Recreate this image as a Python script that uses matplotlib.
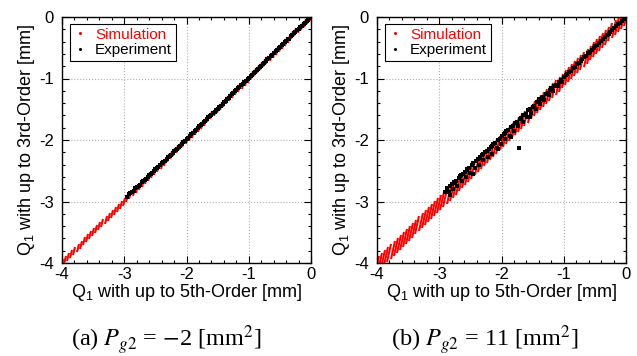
import matplotlib.pyplot as plt
from matplotlib.markers import MarkerStyle
from matplotlib.transforms import Affine2D
from matplotlib.lines import Line2D

plt.rcParams['font.family'] = ['Liberation Sans', 'DejaVu Sans']
plt.rcParams['axes.unicode_minus'] = False
plt.rcParams['mathtext.fontset'] = 'custom'
plt.rcParams['mathtext.rm'] = 'Liberation Sans'
plt.rcParams['mathtext.it'] = 'Liberation Sans:italic'

# simulation grid (x) and centre of each stripe (y)
sim_x = [-4.00, -3.95, -3.90, -3.85, -3.80, -3.75, -3.70, -3.65, -3.60, -3.55,
         -3.50, -3.45, -3.40, -3.35, -3.30, -3.25, -3.20, -3.15, -3.10, -3.05,
         -3.00, -2.95, -2.90, -2.85, -2.80, -2.75, -2.70, -2.65, -2.60, -2.55,
         -2.50, -2.45, -2.40, -2.35, -2.30, -2.25, -2.20, -2.15, -2.10, -2.05,
         -2.00, -1.95, -1.90, -1.85, -1.80, -1.75, -1.70, -1.65, -1.60, -1.55,
         -1.50, -1.45, -1.40, -1.35, -1.30, -1.25, -1.20, -1.15, -1.10, -1.05,
         -1.00, -0.95, -0.90, -0.85, -0.80, -0.75, -0.70, -0.65, -0.60, -0.55,
         -0.50, -0.45, -0.40, -0.35, -0.30, -0.25, -0.20, -0.15, -0.10, -0.05, 0.00]
sim_y_a = list(sim_x)
sim_y_b = [-4.04, -3.99, -3.94, -3.89, -3.84, -3.79, -3.74, -3.69, -3.64, -3.59,
           -3.54, -3.49, -3.44, -3.39, -3.34, -3.29, -3.24, -3.19, -3.14, -3.09,
           -3.04, -2.99, -2.94, -2.89, -2.84, -2.79, -2.74, -2.69, -2.64, -2.59,
           -2.53, -2.48, -2.43, -2.38, -2.33, -2.28, -2.23, -2.18, -2.13, -2.08,
           -2.02, -1.97, -1.92, -1.87, -1.82, -1.77, -1.72, -1.67, -1.62, -1.57,
           -1.52, -1.47, -1.42, -1.37, -1.32, -1.27, -1.22, -1.17, -1.12, -1.07,
           -1.01, -0.96, -0.91, -0.86, -0.81, -0.76, -0.71, -0.66, -0.61, -0.56,
           -0.51, -0.46, -0.41, -0.36, -0.31, -0.25, -0.20, -0.15, -0.10, -0.05, 0.00]

exp_x_a = [-2.95, -2.90, -2.85, -2.80, -2.75, -2.70, -2.65, -2.60, -2.55, -2.50,
           -2.45, -2.40, -2.35, -2.30, -2.25, -2.20, -2.15, -2.10, -2.05, -2.00,
           -1.95, -1.90, -1.85, -1.80, -1.75, -1.70, -1.65, -1.60, -1.55, -1.50,
           -1.45, -1.40, -1.35, -1.30, -1.25, -1.20, -1.15, -1.10, -1.05, -1.00,
           -0.95, -0.90, -0.85, -0.80, -0.75, -0.70, -0.65, -0.60, -0.55, -0.50,
           -0.45, -0.40, -0.35, -0.30, -0.25, -0.20, -0.15, -0.10, -0.05, 0.00,
           -2.92, -2.87, -2.82, -2.77, -2.72, -2.67, -2.62, -2.57, -2.52, -2.47,
           -2.42, -2.37, -2.32, -2.27, -2.22, -2.17, -2.12, -2.07, -2.02, -1.97,
           -1.92, -1.87, -1.82, -1.77, -1.72, -1.67, -1.62, -1.57, -1.52, -1.47,
           -1.42, -1.37, -1.32, -1.27, -1.22, -1.17, -1.12, -1.07, -1.02, -0.97,
           -0.92, -0.87, -0.82, -0.77, -0.72, -0.67, -0.62, -0.57, -0.52, -0.47,
           -0.42, -0.37, -0.32, -0.27, -0.22, -0.17, -0.12, -0.07, -0.03]
exp_y_a = [-2.92, -2.86, -2.83, -2.76, -2.73, -2.66, -2.63, -2.57, -2.53, -2.47,
           -2.44, -2.38, -2.34, -2.28, -2.24, -2.18, -2.14, -2.09, -2.04, -1.99,
           -1.93, -1.89, -1.84, -1.78, -1.74, -1.69, -1.63, -1.59, -1.54, -1.49,
           -1.44, -1.38, -1.34, -1.29, -1.24, -1.19, -1.14, -1.09, -1.04, -0.99,
           -0.94, -0.89, -0.84, -0.79, -0.74, -0.69, -0.64, -0.59, -0.54, -0.49,
           -0.44, -0.39, -0.35, -0.30, -0.25, -0.20, -0.15, -0.10, -0.05, 0.00,
           -2.87, -2.84, -2.78, -2.75, -2.69, -2.65, -2.60, -2.55, -2.50, -2.45,
           -2.41, -2.35, -2.31, -2.26, -2.21, -2.16, -2.11, -2.06, -2.01, -1.96,
           -1.91, -1.86, -1.81, -1.76, -1.71, -1.66, -1.61, -1.56, -1.51, -1.46,
           -1.41, -1.36, -1.31, -1.26, -1.21, -1.16, -1.11, -1.06, -1.01, -0.96,
           -0.91, -0.86, -0.81, -0.76, -0.71, -0.66, -0.61, -0.56, -0.51, -0.46,
           -0.41, -0.36, -0.31, -0.26, -0.21, -0.16, -0.11, -0.06, -0.02]

exp_x_b = [-2.90, -2.88, -2.85, -2.83, -2.80, -2.78, -2.76, -2.73, -2.71, -2.69,
           -2.66, -2.64, -2.62, -2.59, -2.57, -2.55, -2.52, -2.50, -2.48, -2.45,
           -2.43, -2.41, -2.38, -2.36, -2.34, -2.31, -2.29, -2.27, -2.24, -2.22,
           -2.20, -2.17, -2.15, -2.13, -2.10, -2.08, -2.06, -2.03, -2.01, -1.99,
           -1.96, -1.94, -1.92, -1.89, -1.87, -1.85, -1.82, -1.80, -1.78, -1.75,
           -1.73, -1.71, -1.68, -1.66, -1.64, -1.61, -1.59, -1.57, -1.54, -1.52,
           -1.50, -1.47, -1.45, -1.43, -1.40, -1.38, -1.36, -1.33, -1.31, -1.29,
           -1.26, -1.24, -1.22, -1.19, -1.17, -1.15, -1.12, -1.10, -1.08, -1.05,
           -1.03, -1.00, -0.97, -0.94, -0.91, -0.88, -0.85, -0.82, -0.79, -0.76,
           -0.73, -0.70, -0.67, -0.64, -0.61, -0.58, -0.55, -0.52, -0.49, -0.46,
           -0.43, -0.40, -0.37, -0.34, -0.31, -0.28, -0.25, -0.22, -0.19, -0.16,
           -0.13, -0.10, -0.07, -0.04,
           -1.85, -2.45, -2.83, -1.55, -2.05, -1.72, -2.30, -2.65, -1.95, -1.40,
           -2.75, -2.55, -2.35, -2.15, -1.90, -1.65, -1.35, -1.20, -0.95, -0.60]
exp_y_b = [-2.84, -2.78, -2.85, -2.75, -2.72, -2.80, -2.68, -2.66, -2.74, -2.61,
           -2.58, -2.66, -2.55, -2.52, -2.60, -2.47, -2.45, -2.53, -2.40, -2.38,
           -2.46, -2.34, -2.31, -2.40, -2.27, -2.25, -2.33, -2.20, -2.18, -2.27,
           -2.14, -2.12, -2.22, -2.07, -2.05, -2.13, -2.00, -1.98, -2.06, -1.93,
           -1.91, -1.98, -1.86, -1.84, -1.93, -1.79, -1.77, -1.86, -1.72, -1.70,
           -1.78, -1.66, -1.64, -1.70, -1.59, -1.57, -1.63, -1.52, -1.50, -1.56,
           -1.46, -1.44, -1.49, -1.39, -1.37, -1.42, -1.33, -1.30, -1.35, -1.26,
           -1.24, -1.27, -1.19, -1.17, -1.20, -1.12, -1.10, -1.13, -1.06, -1.03,
           -1.05, -0.98, -0.95, -0.93, -0.89, -0.87, -0.83, -0.81, -0.77, -0.75,
           -0.71, -0.69, -0.65, -0.63, -0.59, -0.57, -0.53, -0.51, -0.47, -0.45,
           -0.42, -0.39, -0.36, -0.33, -0.30, -0.27, -0.24, -0.21, -0.18, -0.15,
           -0.12, -0.09, -0.06, -0.03,
           -1.95, -2.55, -2.90, -1.62, -2.15, -2.13, -2.22, -2.57, -1.88, -1.34,
           -2.70, -2.49, -2.30, -2.09, -1.84, -1.60, -1.31, -1.16, -0.92, -0.58]

ticks = [-4, -3, -2, -1, 0]
tick_labels = ['-4', '-3', '-2', '-1', '0']
captions = [r'(a) $P_{g2}$ = $-$2 [mm$^2$]', r'(b) $P_{g2}$ = 11 [mm$^2$]']
caption_x = [166 / 637, 485 / 637]

fig = plt.figure(figsize=(6.37, 3.56), dpi=100)
ax_a = fig.add_axes([62 / 637, 1 - 263 / 356, 249 / 637, 246 / 356])
ax_b = fig.add_axes([377 / 637, 1 - 263 / 356, 249 / 637, 246 / 356])

panels = [
    (ax_a, sim_y_a, exp_x_a, exp_y_a, 6.5, 12, captions[0], caption_x[0]),
    (ax_b, sim_y_b, exp_x_b, exp_y_b, 13.0, 15, captions[1], caption_x[1]),
]

for ax, sim_y, ex, ey, stripe, tilt, cap, cx in panels:
    stripe_marker = MarkerStyle('|', transform=Affine2D().rotate_deg(-tilt))
    ax.plot(sim_x, sim_y, linestyle='none', marker=stripe_marker,
            markersize=stripe, markeredgewidth=1.5, color='#ff0000', zorder=2)
    ax.plot(ex, ey, linestyle='none', marker='s', markersize=3.3,
            markeredgewidth=0, color='black', zorder=3)
    ax.set_xlim(-4, 0)
    ax.set_ylim(-4, 0)
    ax.set_xticks(ticks)
    ax.set_yticks(ticks)
    ax.set_xticklabels(tick_labels)
    ax.set_yticklabels(tick_labels)
    ax.set_xticks([t / 5 for t in range(-20, 1)], minor=True)
    ax.set_yticks([t / 5 for t in range(-20, 1)], minor=True)
    ax.tick_params(which='both', direction='in', top=True, right=True,
                   labelsize=12, width=0.8)
    ax.tick_params(axis='y', pad=6)
    ax.tick_params(axis='x', pad=3)
    ax.tick_params(which='major', length=5)
    ax.tick_params(which='minor', length=2.5)
    ax.grid(True, which='major', linestyle=':', color='#b0b0b0', linewidth=0.8)
    for sp in ax.spines.values():
        sp.set_linewidth(1.0)
    ax.set_xlabel('Q$_{\\mathrm{1}}$ with up to 5th-Order [mm]', fontsize=13, labelpad=0)
    ax.set_ylabel('Q$_{\\mathrm{1}}$ with up to 3rd-Order [mm]', fontsize=13, labelpad=1)
    handles = [
        Line2D([], [], linestyle='none', marker='o', markersize=2.2,
               markeredgewidth=0, color='#ff0000'),
        Line2D([], [], linestyle='none', marker='o', markersize=2.2,
               markeredgewidth=0, color='black'),
    ]
    leg = ax.legend(handles, ['Simulation', 'Experiment'], loc='upper left',
                    bbox_to_anchor=(0.02, 0.985), fontsize=11, frameon=True,
                    fancybox=False, edgecolor='black', framealpha=1,
                    handlelength=0.8, handletextpad=0.6, borderpad=0.25,
                    labelspacing=0.1, borderaxespad=0.2)
    leg.get_frame().set_linewidth(0.8)
    leg.get_texts()[0].set_color('#ff0000')
    fig.text(cx, 1 - 340 / 356, cap, family='Liberation Serif',
             math_fontfamily='stix', fontsize=17.5, ha='center', va='center')

fig.savefig('out.png', dpi=100)
